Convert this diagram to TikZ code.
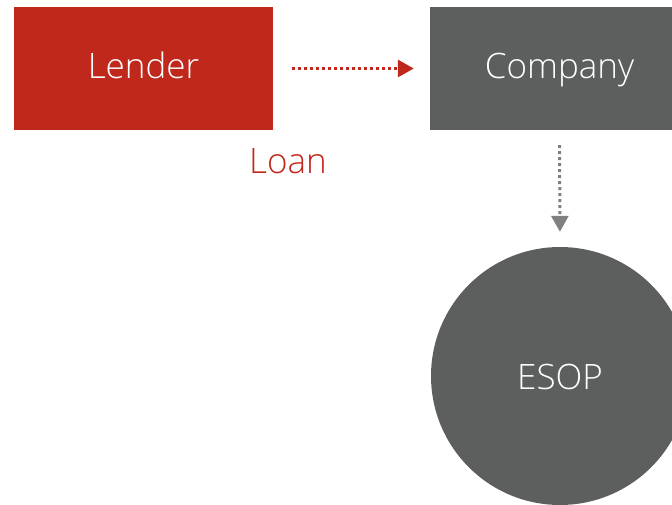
\documentclass[tikz,border=0pt]{standalone}
\usepackage{fontspec}
\setmainfont{Open Sans}[UprightFont=* Light]
\usetikzlibrary{arrows.meta}
\definecolor{lendred}{HTML}{C0281C}
\definecolor{boxgray}{HTML}{5D5F5E}
\definecolor{arrgray}{HTML}{808080}
\tikzset{
  bigtext/.style={font=\fontsize{35}{42}\selectfont},
  block/.style={rectangle, inner sep=0pt, text=white, bigtext,
    minimum width=259pt, minimum height=123pt, text height=26pt, text depth=5pt},
  flow/.style={line width=3pt, dash pattern=on 3pt off 3pt,
    -{Triangle[length=16pt, width=17pt]}, shorten <=19pt, shorten >=16pt},
}
\begin{document}
\begin{tikzpicture}[x=1pt, y=-1pt]
  \useasboundingbox (0,0) rectangle (672,505);
  % the two parties
  \node[block, fill=lendred] (lender) at (143.5,68.5) {Lender};
  \node[block, fill=boxgray] (company) at (559.5,68.5) {Company};
  % the plan
  \node[circle, fill=boxgray, minimum size=258pt, inner sep=0pt, text=white,
        bigtext, text height=26pt, text depth=0pt] (esop) at (560,376) {ESOP};
  % label under the loan arrow
  \node[text=lendred, bigtext, anchor=base, inner sep=0pt] (loan) at (288,174) {Loan};
  % flows
  \draw[flow, lendred] (lender.east) -- (company.west);
  \draw[flow, arrgray, shorten <=15pt, shorten >=15pt] (company.south) -- (esop.north);
\end{tikzpicture}
\end{document}
